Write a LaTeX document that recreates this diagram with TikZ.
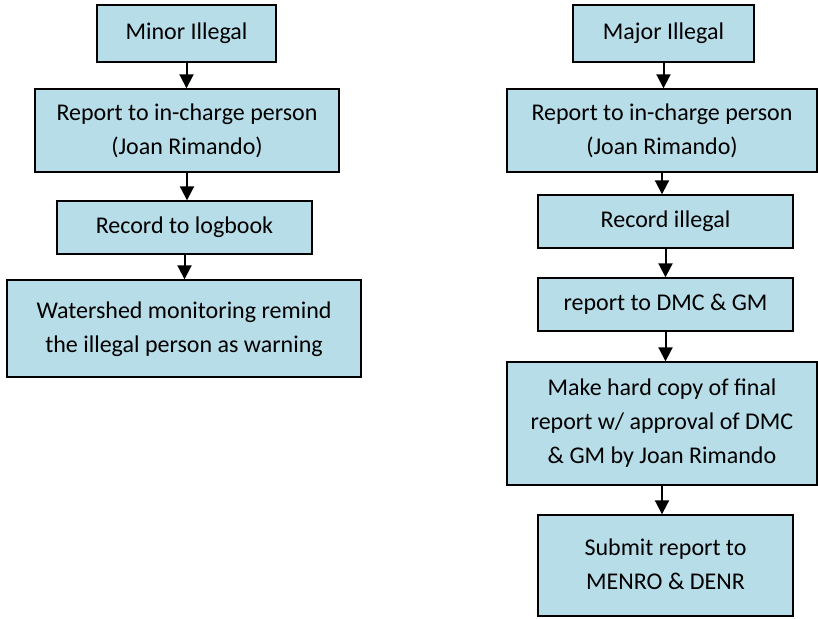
\documentclass[tikz,border=0pt]{standalone}
\usepackage{fontspec}
\setmainfont{Carlito}
\usetikzlibrary{arrows.meta}
\definecolor{boxfill}{HTML}{B7DDE8}
\tikzset{
  stepbox/.style={draw=black, line width=1.4pt, fill=boxfill, inner sep=0pt,
    align=center, font=\fontsize{24}{34}\selectfont, text=black},
  flow/.style={line width=2pt, -{Triangle[length=14pt,width=14pt]}}
}
\newcommand{\bx}[6]{% name, cx, cy, w, h, text
  \node[stepbox, minimum width=#4pt, minimum height=#5pt] (#1) at (#2,#3) {#6};}
\begin{document}
\begin{tikzpicture}[x=1pt,y=-1pt]
\useasboundingbox (0,0) rectangle (818,618);
% minor illegal procedure
\bx{m1}{186.5}{33.5}{179}{57}{Minor Illegal}
\bx{m2}{187}{130.5}{304}{83}{Report to in-charge person\\(Joan Rimando)}
\bx{m3}{184.5}{227.5}{255}{53}{Record to logbook}
\bx{m4}{184}{328.5}{354}{97}{\raisebox{5pt}{\begin{tabular}{@{}c@{}}Watershed monitoring remind\\the illegal person as warning\end{tabular}}}
% major illegal procedure
\bx{j1}{663.5}{33.5}{181}{57}{Major Illegal}
\bx{j2}{662}{130.5}{310}{83}{Report to in-charge person\\(Joan Rimando)}
\bx{j3}{665.5}{221.5}{255}{53}{Record illegal}
\bx{j4}{665.5}{304.5}{255}{53}{report to DMC \& GM}
\bx{j5}{662}{423.5}{310}{123}{Make hard copy of final\\report w/ approval of DMC\\\& GM by Joan Rimando}
\bx{j6}{665.5}{565.5}{255}{101}{\raisebox{8pt}{\begin{tabular}{@{}c@{}}Submit report to\\MENRO \& DENR\end{tabular}}}
% connectors
\foreach \a/\b in {m1/m2,m2/m3,m3/m4,j1/j2,j2/j3,j3/j4,j4/j5,j5/j6}
  \draw[flow] (\a.south) -- (\a.south |- \b.north);
\end{tikzpicture}
\end{document}
